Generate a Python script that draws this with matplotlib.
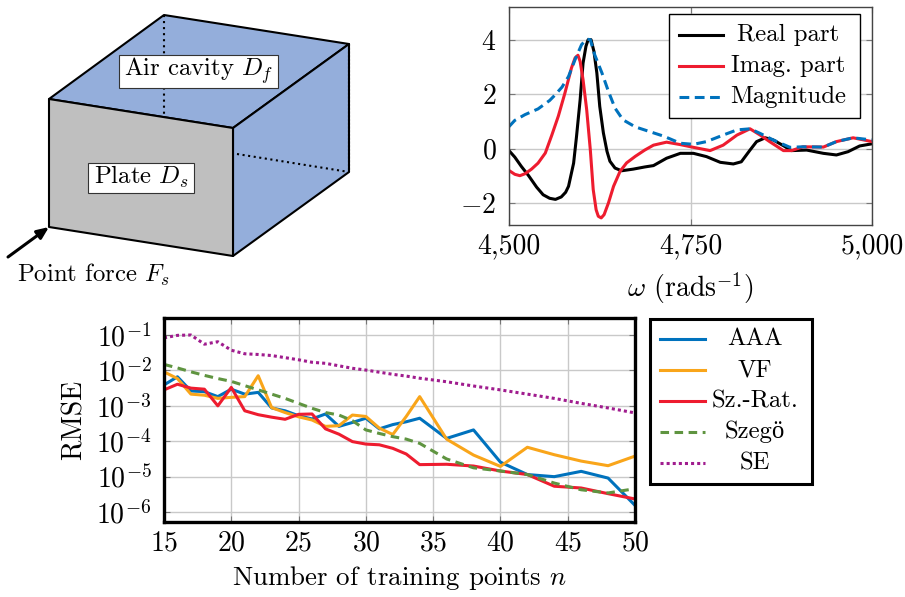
import matplotlib
matplotlib.use('Agg')
import matplotlib.pyplot as plt
import numpy as np
from matplotlib.patches import Polygon

plt.rcParams['font.family'] = ['cmr10', 'Liberation Serif']
plt.rcParams['mathtext.fontset'] = 'cm'
plt.rcParams['axes.unicode_minus'] = False
plt.rcParams['axes.formatter.use_mathtext'] = True

W, H = 905, 597
FS = 20
FS_BOX = 17.8

# frequency response
om_real = [4500,4508,4517,4527,4538,4547,4556,4564,4572,4578,4582,4589,4593,4598,4602,4606,4609,4613,4617,4621,4625,4630,4635,4639,4646,4655,4671,4687,4699,4717,4736,4754,4772,4791,4809,4820,4832,4841,4853,4864,4878,4889,4910,4933,4951,4967,4983,5000]
val_real = [-0.07,-0.31,-0.65,-0.99,-1.41,-1.69,-1.82,-1.86,-1.77,-1.60,-1.38,-0.53,0.45,1.80,3.14,3.76,4.00,4.00,3.57,2.78,1.55,0.58,-0.10,-0.46,-0.71,-0.81,-0.75,-0.67,-0.62,-0.35,-0.17,-0.17,-0.29,-0.50,-0.56,-0.48,-0.05,0.26,0.40,0.32,0.11,-0.07,-0.05,-0.17,-0.23,-0.11,0.10,0.18]
om_imag = [4500,4508,4515,4522,4531,4540,4550,4559,4568,4577,4586,4591,4595,4598,4602,4607,4612,4616,4620,4623,4627,4631,4637,4644,4653,4662,4674,4687,4699,4717,4736,4754,4777,4795,4814,4832,4846,4859,4878,4889,4905,4933,4951,4974,5000]
val_imag = [-0.80,-0.94,-0.99,-0.92,-0.75,-0.53,-0.16,0.50,1.20,2.04,2.96,3.33,3.43,3.20,2.53,1.43,-0.04,-1.50,-2.24,-2.48,-2.54,-2.42,-1.99,-1.38,-0.83,-0.52,-0.28,-0.05,0.13,0.24,0.15,0.05,-0.07,0.13,0.50,0.73,0.50,0.26,-0.07,-0.07,0.07,0.06,0.26,0.40,0.26]
om_mag = [4500,4508,4522,4540,4556,4563,4573,4582,4591,4600,4607,4612,4618,4628,4637,4646,4657,4674,4690,4713,4736,4754,4772,4795,4814,4832,4846,4864,4887,4905,4933,4951,4974,5000]
val_mag = [0.81,1.04,1.25,1.46,1.77,1.96,2.26,2.65,3.27,3.82,4.02,4.00,3.45,2.78,2.10,1.49,1.06,0.80,0.66,0.46,0.20,0.16,0.26,0.50,0.69,0.73,0.56,0.32,0.05,0.07,0.06,0.26,0.40,0.32]
om_ticks = [4500, 4750, 5000]
om_labels = ['4,500', '4,750', '5,000']
val_ticks = [-2, 0, 2, 4]
val_labels = ['$-2$', '$0$', '$2$', '$4$']

# rmse against n, stored as log10 of the error
n = [15,16,17,18,19,20,21,22,23,24,25,26,27,28,29,30,31,32,33,34,36,38,40,42,44,46,48,50]
log_aaa = [-2.41,-2.18,-2.58,-2.60,-2.74,-2.53,-2.67,-2.62,-3.06,-3.14,-3.28,-3.37,-3.23,-3.58,-3.47,-3.35,-3.65,-3.53,-3.45,-3.35,-3.92,-3.68,-4.59,-4.94,-5.00,-4.85,-5.04,-5.81]
log_vf = [-2.04,-2.23,-2.67,-2.70,-2.79,-2.76,-2.74,-2.15,-3.05,-3.19,-3.31,-3.40,-3.58,-3.56,-3.26,-3.30,-3.63,-3.81,-3.30,-2.74,-3.94,-4.39,-4.71,-4.17,-4.38,-4.56,-4.69,-4.42]
log_szr = [-2.55,-2.39,-2.50,-2.53,-3.00,-2.48,-3.14,-3.25,-3.32,-3.38,-3.24,-3.23,-3.65,-3.80,-4.01,-4.08,-4.10,-4.20,-4.36,-4.66,-4.65,-4.70,-4.84,-4.94,-5.27,-5.32,-5.48,-5.63]
log_sze = [-1.83,-1.93,-2.04,-2.14,-2.23,-2.31,-2.43,-2.55,-2.67,-2.79,-2.93,-3.07,-3.19,-3.26,-3.42,-3.68,-3.78,-3.87,-3.94,-4.06,-4.50,-4.75,-4.84,-4.94,-5.18,-5.37,-5.46,-5.34]
log_se = [-1.08,-1.01,-1.00,-1.26,-1.19,-1.43,-1.53,-1.55,-1.58,-1.64,-1.70,-1.77,-1.80,-1.87,-1.94,-1.99,-2.05,-2.11,-2.16,-2.22,-2.32,-2.44,-2.55,-2.67,-2.79,-2.93,-3.06,-3.20]
n_ticks = [15,20,25,30,35,40,45,50]
rmse_ticks = [1e-1,1e-2,1e-3,1e-4,1e-5,1e-6]
rmse_labels = ['$10^{-1}$','$10^{-2}$','$10^{-3}$','$10^{-4}$','$10^{-5}$','$10^{-6}$']

BLUE = '#0072bd'
ORANGE = '#f9a51a'
RED = '#ee1c2f'
GREEN = '#5f9440'
PURPLE = '#a01c8e'
GRID = '#c9c9c9'
LW_TOP = 2.2
LW_BOT = 2.2
DASH_MAG = (3.2, 1.8)
DASH_SZE = (2.8, 1.8)
DOT_SE = (1, 1)


def px_axes(left, top, right, bottom):
    return fig.add_axes([left/W, 1-bottom/H, (right-left)/W, (bottom-top)/H])


fig = plt.figure(figsize=(W/100, H/100), dpi=100)

#------------------------ top right plot ------------------------#
ax1 = px_axes(509, 7, 872, 225)
ax1.plot(om_real, val_real, color='black', lw=LW_TOP)
ax1.plot(om_imag, val_imag, color=RED, lw=LW_TOP)
ax1.plot(om_mag, val_mag, color=BLUE, lw=LW_TOP, dashes=DASH_MAG)
ax1.set_xlim(4500, 5000)
ax1.set_ylim(-2.8, 5.2)
ax1.set_xticks(om_ticks)
ax1.set_xticklabels(om_labels)
ax1.set_yticks(val_ticks)
ax1.set_yticklabels(val_labels)
ax1.grid(True, color=GRID, lw=1)
ax1.set_axisbelow(True)
ax1.tick_params(direction='in', length=4, color='#777777', labelsize=FS, top=True, right=True)
ax1.tick_params(axis='x', pad=6)
ax1.tick_params(axis='y', pad=9)
ax1.set_xlabel(r'$\omega$ (rads$^{-1}$)', fontsize=FS, labelpad=8)
for s in ax1.spines.values():
    s.set_color('#444444')
    s.set_linewidth(1)

#------------------------ bottom plot ------------------------#
ax2 = px_axes(164, 318, 635, 522)
ax2.plot(n, 10.0**np.array(log_aaa), color=BLUE, lw=LW_BOT)
ax2.plot(n, 10.0**np.array(log_vf), color=ORANGE, lw=LW_BOT)
ax2.plot(n, 10.0**np.array(log_szr), color=RED, lw=LW_BOT)
ax2.plot(n, 10.0**np.array(log_sze), color=GREEN, lw=LW_BOT, dashes=DASH_SZE)
ax2.plot(n, 10.0**np.array(log_se), color=PURPLE, lw=LW_BOT, dashes=DOT_SE)
ax2.set_yscale('log')
ax2.set_xlim(15, 50)
ax2.set_ylim(10**-6.28, 10**-0.52)
ax2.set_xticks(n_ticks)
ax2.set_yticks(rmse_ticks)
ax2.set_yticklabels(rmse_labels)
ax2.minorticks_off()
ax2.grid(True, color=GRID, lw=1)
ax2.set_axisbelow(True)
ax2.tick_params(direction='in', length=4, color='#777777', labelsize=FS, top=True, right=True)
ax2.tick_params(axis='x', pad=6)
ax2.tick_params(axis='y', pad=9)
ax2.set_xlabel('Number of training points $n$', fontsize=19.4, labelpad=5)
ax2.set_ylabel('RMSE', fontsize=FS, labelpad=6)
for s in ax2.spines.values():
    s.set_linewidth(2.4)

#------------------------ diagram and legends, in pixels ------------------------#
ov = fig.add_axes([0, 0, 1, 1], zorder=10)
ov.set_xlim(0, W)
ov.set_ylim(H, 0)
ov.axis('off')

front = [(49, 99), (233, 128), (233, 256), (49, 227)]
top = [(49, 99), (164, 15), (349, 44), (233, 128)]
side = [(233, 128), (349, 44), (349, 172), (233, 256)]
ov.add_patch(Polygon(top, fc='#94aedb', ec='black', lw=1.5, joinstyle='round', zorder=1))
ov.add_patch(Polygon(side, fc='#94aedb', ec='black', lw=1.5, joinstyle='round', zorder=1))
ov.add_patch(Polygon(front, fc='#bfbfbf', ec='black', lw=1.5, joinstyle='round', zorder=1))
ov.plot([164, 164], [15, 116], color='black', lw=1.5, dashes=(1, 1.9), zorder=2)
ov.plot([237, 349], [154, 172], color='black', lw=1.5, dashes=(1, 1.7), zorder=2)
ov.plot([349, 349], [44, 172], color='black', lw=1.5, dashes=(1, 0.8), zorder=2)


def rect(left, top_, right, bottom, edge, lw):
    ov.add_patch(Polygon([(left, top_), (right, top_), (right, bottom), (left, bottom)],
                         fc='white', ec=edge, lw=lw, zorder=2.5))


rect(119, 55, 278, 88, '#333333', 0.8)
ov.text(198.5, 71, 'Air cavity $D_f$', fontsize=FS_BOX, ha='center', va='center')
rect(88, 163, 194, 193, '#333333', 0.8)
ov.text(141, 177, 'Plate $D_s$', fontsize=FS_BOX, ha='center', va='center')
ov.annotate('', xy=(49, 227), xytext=(8, 257),
            arrowprops=dict(arrowstyle='-|>,head_width=0.3,head_length=0.7', color='black', lw=2.2, shrinkA=0, shrinkB=0))
ov.text(17, 275, 'Point force $F_s$', fontsize=FS_BOX, ha='left', va='center')


def draw_legend(box, edge, lw, x0, x1, xt, ys, labels, styles):
    rect(*box, edge, lw)
    for y, lab, st in zip(ys, labels, styles):
        ov.plot([x0, x1], [y, y], zorder=3, **st)
        ov.text(xt, y, lab, fontsize=FS_BOX, ha='center', va='center')


draw_legend((669, 14, 860, 118), 'black', 1, 679, 723, 788, [35, 66, 97],
            ['Real part', 'Imag. part', 'Magnitude'],
            [dict(color='black', lw=LW_TOP), dict(color=RED, lw=LW_TOP), dict(color=BLUE, lw=LW_TOP, dashes=DASH_MAG)])
draw_legend((650, 319, 812, 484), 'black', 2.2, 660, 705, 755, [339, 370, 401, 432, 463],
            ['AAA', 'VF', 'Sz.-Rat.', 'Szegö', 'SE'],
            [dict(color=BLUE, lw=LW_BOT), dict(color=ORANGE, lw=LW_BOT), dict(color=RED, lw=LW_BOT),
             dict(color=GREEN, lw=LW_BOT, dashes=DASH_SZE), dict(color=PURPLE, lw=LW_BOT, dashes=DOT_SE)])

fig.savefig('out.png', dpi=100)
